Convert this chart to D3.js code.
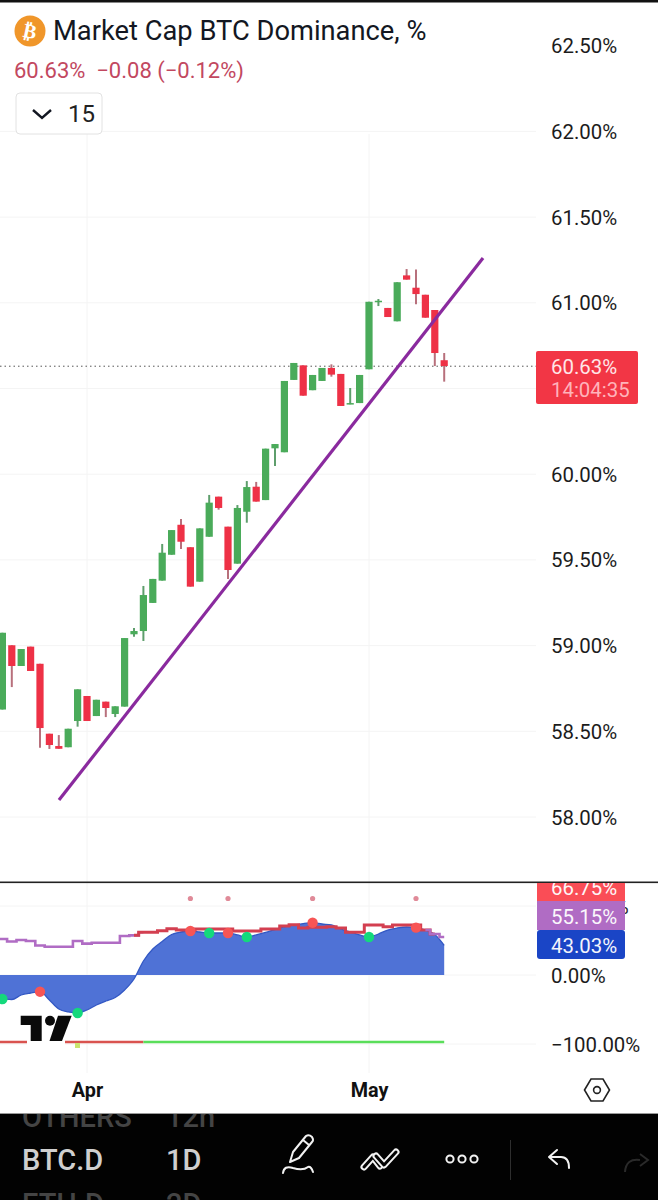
<!DOCTYPE html>
<html><head><meta charset="utf-8">
<script src="https://cdn.jsdelivr.net/npm/d3@7"></script>
<style>html,body{margin:0;padding:0;background:#fff}svg{display:block}text{font-family:Roboto,sans-serif}</style>
</head><body><div id="chart"></div>
<script>
// ---- data ----
const candleStartDay = -9; // days relative to 1 April
const opens  = [58.627,59.002,58.881,58.994,58.894,58.486,58.414,58.407,58.560,58.706,58.589,58.673,58.601,58.644,59.066,59.085,59.249,59.379,59.530,59.705,59.574,59.373,59.635,59.869,59.694,59.478,59.781,59.927,59.849,60.151,60.128,60.550,60.635,60.490,60.544,60.620,60.585,60.408,60.415,60.612,61.005,60.970,60.892,61.160,61.088,61.047,60.958,60.665];
const closes = [59.075,58.881,58.980,58.852,58.519,58.420,58.398,58.515,58.745,58.560,58.684,58.636,58.646,59.044,59.085,59.295,59.389,59.542,59.674,59.606,59.344,59.684,59.834,59.803,59.441,59.803,59.925,59.840,60.149,60.176,60.544,60.649,60.458,60.579,60.620,60.581,60.398,60.415,60.579,61.006,61.012,60.917,61.120,61.135,61.051,60.913,60.707,60.631];
const highs  = [59.075,59.002,58.980,58.994,58.894,58.486,58.478,58.515,58.745,58.706,58.684,58.673,58.646,59.044,59.103,59.348,59.389,59.593,59.674,59.739,59.574,59.684,59.879,59.869,59.694,59.820,59.960,59.955,60.149,60.176,60.544,60.649,60.635,60.579,60.620,60.641,60.585,60.503,60.579,61.006,61.022,60.970,61.120,61.197,61.195,61.047,60.958,60.707];
const lows   = [58.627,58.758,58.881,58.852,58.404,58.397,58.398,58.407,58.527,58.560,58.589,58.583,58.583,58.644,59.052,59.027,59.249,59.379,59.530,59.564,59.344,59.373,59.635,59.793,59.389,59.478,59.717,59.840,59.849,60.048,60.128,60.550,60.458,60.490,60.544,60.569,60.398,60.408,60.415,60.612,60.981,60.917,60.892,61.135,60.991,60.913,60.631,60.540];
const priceGrid = [62,61.5,61,60.5,60,59.5,59,58.5,58];
const priceTicks = [62.5,62,61.5,61,60,59.5,59,58.5,58];
const lastPrice = 60.63;
const trendDays = [-2.98,42.13];
const trendPrices = [58.099,61.261];
const monthDays = [0,30];
const monthLabels = ["Apr","May"];

const oscStartDay = -10;
const oscValues = [-34.0,-34.8,-35.5,-29,-26.1,-24.2,-36.2,-49.3,-53.6,-55.1,-50.7,-43.5,-37.7,-32.6,-21.7,-5.8,20.3,37.7,48.6,58.7,62.3,63.8,62.3,60.9,60.9,60.9,58,55.1,58,61.6,65.9,69.6,72.5,74.6,75.8,73.9,72.5,66.7,62.3,58,55.1,59.4,65.2,68.1,69.6,68.6,65.2,58.7,43.03];
const signalValues = [52.2,52.2,48.6,50.7,49.3,42.8,41,41,41,49.3,45.4,46.8,46.8,46.8,56.5,57.5,61.9,61.9,64.2,67.1,65.2,65.2,66.7,66.7,66.7,66.7,63.8,63.8,63.8,66.7,66.7,71,72.9,68.1,69.1,69.1,70,68.1,61.9,61.9,72.5,72.5,70,72.5,72.5,72.5,65.2,59.4,55.15];
const signalRedFromDay = 5.5, signalRedToDay = 36.5;
const greenDotDays = [-9,-1,13,17,30];
const redDotDays = [-5,11,15,24,35];
const topDotDays = [11,15,24,35];
const topDotValue = 110.9;
const floorValue = -97;
const floorSwitchDay = 6;
const floorEndDay = 38;
const oscTicks = [100,0,-100];
const oscBadgeLabels = ["66.75%","55.15%","43.03%"];

// ---- layout ----
const W=658,H=1200,plotR=536,axisX=551,axisFont=20.4;
const C={green:"#4aab5a",red:"#ee3146",gw:"#5e9e6c",rw:"#b8707c",grid:"#f4f4f4",txt:"#1c1c1c"};
const svg=d3.select("#chart").append("svg").attr("width",W).attr("height",H);
svg.append("rect").attr("width",W).attr("height",H).attr("fill","#fff");
const x=d3.scaleLinear().domain([0,30]).range([87,369]);
const y=d3.scaleLinear().domain([58,62.5]).range([817,45.7]);
const yo=d3.scaleLinear().domain([-100,0]).range([1044,975]);
const candles=opens.map((o,i)=>({d:candleStartDay+i,o,c:closes[i],h:highs[i],l:lows[i]}));
const osc=oscValues.map((v,i)=>({d:oscStartDay+i,v,s:signalValues[i]}));
const oscAt=d=>osc.find(p=>p.d===d).v;

// grid
const grid=svg.append("g").attr("stroke",C.grid).attr("stroke-width",1);
grid.selectAll(".h").data(priceGrid).join("line").attr("x1",0).attr("x2",plotR).attr("y1",d=>y(d)).attr("y2",d=>y(d));
grid.selectAll(".o").data(oscTicks).join("line").attr("x1",0).attr("x2",plotR).attr("y1",d=>yo(d)).attr("y2",d=>yo(d));
grid.selectAll(".v").data(monthDays).join("line").attr("x1",d=>x(d)).attr("x2",d=>x(d)).attr("y1",134).attr("y2",1073);

// last price dotted line
svg.append("line").attr("x1",0).attr("x2",plotR).attr("y1",y(lastPrice)).attr("y2",y(lastPrice))
  .attr("stroke","#555").attr("stroke-width",1).attr("stroke-dasharray","1.5 3");

// candles
const cg=svg.append("g");
cg.selectAll("line").data(candles).join("line")
  .attr("x1",d=>x(d.d)).attr("x2",d=>x(d.d)).attr("y1",d=>y(d.h)).attr("y2",d=>y(d.l))
  .attr("stroke",d=>d.c>=d.o?C.gw:C.rw).attr("stroke-width",2);
cg.selectAll("rect").data(candles).join("rect")
  .attr("x",d=>x(d.d)-3.6).attr("width",7.2)
  .attr("y",d=>y(Math.max(d.o,d.c))).attr("height",d=>Math.max(1.5,Math.abs(y(d.o)-y(d.c))))
  .attr("fill",d=>d.c>=d.o?C.green:C.red);

// trend line
svg.append("path").datum(trendDays.map((d,i)=>[d,trendPrices[i]]))
  .attr("d",d3.line().x(d=>x(d[0])).y(d=>y(d[1]))).attr("fill","none").attr("stroke","#8a2a9e").attr("stroke-width",3.2);

// price axis
const ax=svg.append("g").attr("transform",`translate(${axisX},0.5)`)
  .call(d3.axisRight(y).tickValues(priceTicks).tickSize(0).tickPadding(0).tickFormat(d=>d.toFixed(2)+"%"));
ax.select(".domain").remove();
ax.selectAll("text").attr("font-size",axisFont).attr("fill",C.txt).attr("x",0).style("font-family","Roboto");

// last price badge
svg.append("rect").attr("x",plotR).attr("y",351).attr("width",102).attr("height",53).attr("rx",2).attr("fill","#f23645");
svg.append("text").attr("x",axisX).attr("y",373.5).attr("font-size",axisFont).attr("fill","#ffe6e8").text(lastPrice.toFixed(2)+"%");
svg.append("text").attr("x",axisX).attr("y",397).attr("font-size",axisFont).attr("fill","#ffb3ba").text("14:04:35");

// header
svg.append("rect").attr("width",W).attr("height",2.5).attr("fill","#111");
svg.append("circle").attr("cx",30).attr("cy",31).attr("r",15.5).attr("fill","#f0962a");
svg.append("text").attr("x",30).attr("y",38).attr("text-anchor","middle").attr("font-size",20).attr("font-weight",700).attr("fill","#fff")
  .attr("transform","rotate(12 30 31)").style("font-family","DejaVu Sans").text("₿");
svg.append("text").attr("x",53).attr("y",40).attr("font-size",27.3).attr("fill","#131722").text("Market Cap BTC Dominance, %");
svg.append("text").attr("x",14).attr("y",77.5).attr("font-size",22).attr("fill","#c2485f").attr("xml:space","preserve").style("white-space","pre").text("60.63%  −0.08 (−0.12%)");
svg.append("rect").attr("x",16).attr("y",93).attr("width",86).attr("height",41).attr("rx",4).attr("fill","#fff").attr("stroke","#e2e2e2");
svg.append("path").attr("d","M33 110 L42 118 L51 110").attr("fill","none").attr("stroke","#131722").attr("stroke-width",2.4);
svg.append("text").attr("x",68).attr("y",122).attr("font-size",24).attr("fill","#222").text("15");

// pane separator
svg.append("rect").attr("x",0).attr("y",881.5).attr("width",W).attr("height",1.6).attr("fill","#222");

// oscillator area
svg.append("path").datum(osc).attr("d",d3.area().x(d=>x(d.d)).y0(yo(0)).y1(d=>yo(d.v)).curve(d3.curveMonotoneX)).attr("fill","#4f72d6");
svg.append("path").datum(osc).attr("d",d3.line().x(d=>x(d.d)).y(d=>yo(d.v)).curve(d3.curveMonotoneX)).attr("fill","none").attr("stroke","#3358c4").attr("stroke-width",1.3);

// signal step line
const sig=d3.line().x(d=>x(d.d)).y(d=>yo(d.s)).curve(d3.curveStep);
const purple="#b06cc4",redLine="#d33f50";
svg.append("path").datum(osc.filter(d=>d.d<=signalRedFromDay+.5)).attr("d",sig).attr("fill","none").attr("stroke",purple).attr("stroke-width",2.6);
svg.append("path").datum(osc.filter(d=>d.d>=signalRedFromDay-.5&&d.d<=signalRedToDay+.5)).attr("d",sig).attr("fill","none").attr("stroke",redLine).attr("stroke-width",3);
svg.append("path").datum(osc.filter(d=>d.d>=signalRedToDay-.5)).attr("d",sig).attr("fill","none").attr("stroke",purple).attr("stroke-width",2.6);

// floor line
svg.append("line").attr("x1",x(oscStartDay)).attr("x2",x(floorSwitchDay)).attr("y1",yo(floorValue)).attr("y2",yo(floorValue)).attr("stroke","#d9534f").attr("stroke-width",2.5);
svg.append("line").attr("x1",x(floorSwitchDay)).attr("x2",x(floorEndDay)).attr("y1",yo(floorValue)).attr("y2",yo(floorValue)).attr("stroke","#5ade5a").attr("stroke-width",2.5);
svg.append("rect").attr("x",75).attr("y",1043).attr("width",5).attr("height",5).attr("fill","#c9e46e");

// logo
svg.append("rect").attr("x",27).attr("y",1039).attr("width",38).attr("height",6).attr("fill","#fff");
const logo=svg.append("g").attr("fill","#0a0a0a");
logo.append("path").attr("d","M20.7 1015.7H41.7V1041H30.7V1025H20.7Z");
logo.append("circle").attr("cx",50).attr("cy",1020.7).attr("r",5);
logo.append("path").attr("d","M58 1015.7H71.7L62 1041H49.5Z");

// oscillator dots
svg.selectAll(".g").data(greenDotDays).join("circle").attr("cx",d=>x(d)).attr("cy",d=>yo(oscAt(d))).attr("r",5.2).attr("fill","#14d97c");
svg.selectAll(".r").data(redDotDays).join("circle").attr("cx",d=>x(d)).attr("cy",d=>yo(oscAt(d))).attr("r",5.2).attr("fill","#f75555");
svg.selectAll(".t").data(topDotDays).join("circle").attr("cx",d=>x(d)).attr("cy",yo(topDotValue)).attr("r",2.6).attr("fill","#e08a98");

// oscillator axis
const oax=svg.append("g").attr("transform",`translate(${axisX},0.5)`)
  .call(d3.axisRight(yo).tickValues(oscTicks).tickSize(0).tickPadding(0).tickFormat(d=>d3.format(".2f")(d).replace("-","−")+"%"));
oax.select(".domain").remove();
oax.selectAll("text").attr("font-size",axisFont).attr("fill",C.txt).attr("x",0).style("font-family","Roboto");

// oscillator badges
const badges=[{y:883,h:18,c:"#fa4d56",t:895},{y:901,h:29,c:"#b06cc4",t:924},{y:930,h:29,c:"#1a45c6",t:952.5}];
svg.append("clipPath").attr("id","pane").append("rect").attr("x",0).attr("y",883).attr("width",W).attr("height",190);
const bg=svg.append("g").attr("clip-path","url(#pane)");
badges.forEach((b,i)=>{
  bg.append("rect").attr("x",plotR+1).attr("y",b.y).attr("width",88).attr("height",b.h).attr("rx",i==2?3:0).attr("fill",b.c);
  bg.append("text").attr("x",axisX).attr("y",b.t).attr("font-size",axisFont).attr("fill","#fff").attr("opacity",.95).text(oscBadgeLabels[i]);
});

// month axis
const mx=svg.append("g").attr("transform","translate(0,1073)")
  .call(d3.axisBottom(x).tickValues(monthDays).tickSize(0).tickPadding(0).tickFormat((d,i)=>monthLabels[i]));
mx.select(".domain").remove();
mx.selectAll("text").attr("y",23.5).attr("dy",0).attr("font-size",19.8).attr("font-weight",700).attr("fill","#111").style("font-family","Roboto");

// settings hexagon
svg.append("path").attr("d","M584.5 1090L591 1079H603L609.5 1090L603 1101H591Z").attr("fill","none").attr("stroke","#222").attr("stroke-width",1.6);
svg.append("circle").attr("cx",597).attr("cy",1090).attr("r",3.4).attr("fill","none").attr("stroke","#222").attr("stroke-width",1.6);

// bottom bar
svg.append("rect").attr("y",1113).attr("width",W).attr("height",1).attr("fill","#999");
svg.append("rect").attr("y",1114).attr("width",W).attr("height",86).attr("fill","#020202");
svg.append("clipPath").attr("id","bar").append("rect").attr("x",0).attr("y",1114).attr("width",W).attr("height",86);
const bar=svg.append("g").attr("clip-path","url(#bar)");
[["OTHERS",22,1127,"#444"],["12h",166,1127,"#444"],["BTC.D",22,1170,"#cfcfcf"],["1D",166,1170,"#cfcfcf"],["ETH.D",22,1214,"#444"],["2D",166,1214,"#444"]].forEach(r=>{
  bar.append("text").attr("x",r[1]).attr("y",r[2]).attr("font-size",29).attr("font-weight",500).attr("fill",r[3]).text(r[0]);
});
const ic=svg.append("g").attr("fill","none").attr("stroke","#f2f2f2").attr("stroke-width",2).attr("stroke-linecap","round").attr("stroke-linejoin","round");
ic.append("path").attr("d","M290 1162L293 1152L306 1136Q309 1134 312 1137Q314 1140 312 1142L299 1158ZM303 1140L309 1145");
ic.append("path").attr("d","M283 1173Q284 1165 293 1168Q303 1171 308 1167Q311 1166 313 1172");
[["M364 1167L373 1157L380 1166"],["M376 1156L384 1165L396 1152"]].forEach(p=>{
  svg.append("path").attr("d",p[0]).attr("fill","none").attr("stroke","#f2f2f2").attr("stroke-width",7).attr("stroke-linecap","round").attr("stroke-linejoin","round");
  svg.append("path").attr("d",p[0]).attr("fill","none").attr("stroke","#020202").attr("stroke-width",3).attr("stroke-linecap","round").attr("stroke-linejoin","round");
});
ic.append("circle").attr("cx",450).attr("cy",1159).attr("r",3.6);
ic.append("circle").attr("cx",462).attr("cy",1159).attr("r",3.6);
ic.append("circle").attr("cx",474).attr("cy",1159).attr("r",3.6);
svg.append("line").attr("x1",510.5).attr("x2",510.5).attr("y1",1140).attr("y2",1180).attr("stroke","#2e2e2e");
ic.append("path").attr("d","M557 1150L549 1157L557 1164M549 1157H561Q569 1157 569 1168");
svg.append("path").attr("d","M640 1160Q626 1158 625 1172M640 1154L648 1160L640 1166").attr("fill","none").attr("stroke","#2a2a2a").attr("stroke-width",2);
</script></body></html>
